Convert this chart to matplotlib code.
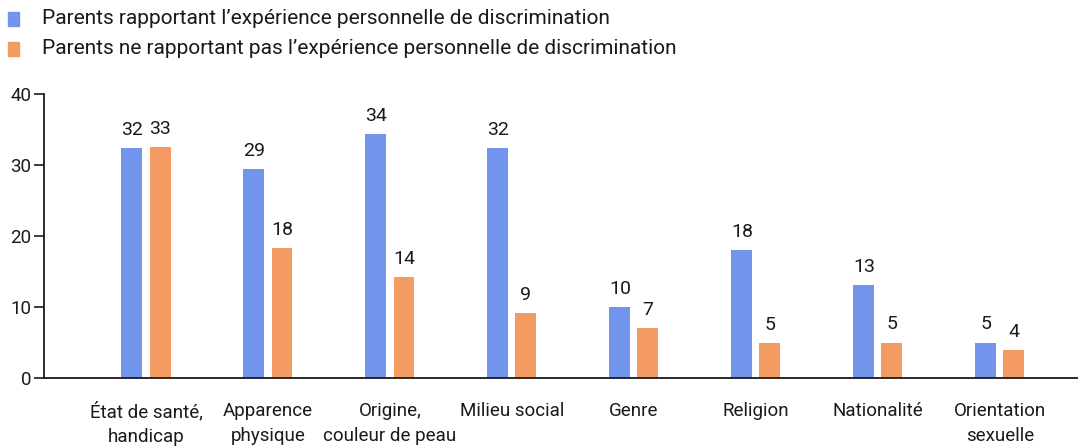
import matplotlib
matplotlib.use("Agg")
import matplotlib.pyplot as plt
from matplotlib.patches import Rectangle
import numpy as np

plt.rcParams['font.family'] = ['Roboto', 'DejaVu Sans']

categories = ["État de santé,\nhandicap", "Apparence\nphysique", "Origine,\ncouleur de peau",
              "Milieu social", "Genre", "Religion", "Nationalité", "Orientation\nsexuelle"]
series_names = ["Parents rapportant l’expérience personnelle de discrimination",
                "Parents ne rapportant pas l’expérience personnelle de discrimination"]
with_discr = [32.4, 29.4, 34.4, 32.4, 10.0, 18.0, 13.1, 5.0]
without_discr = [32.6, 18.3, 14.2, 9.1, 7.0, 4.9, 5.0, 4.0]
yticks = [0, 10, 20, 30, 40]

blue = "#7294EC"
orange = "#F39B63"
txt = "#1a1a1a"

fig = plt.figure(figsize=(10.78, 4.48), dpi=100)
ax = fig.add_axes([44/1078, 70/448, 1 - 44/1078, (378-94)/448])

x = np.arange(len(categories))
w = 0.172
off = 0.115
b1 = ax.bar(x - off, with_discr, w, color=blue)
b2 = ax.bar(x + off, without_discr, w, color=orange)

for bars, vals in ((b1, with_discr), (b2, without_discr)):
    for r, v in zip(bars, vals):
        ax.annotate(f"{round(v)}", (r.get_x() + r.get_width()/2, v), xytext=(0, 6.5),
                    textcoords="offset points", ha="center", va="bottom",
                    fontsize=14, color=txt)

ax.set_xlim(-0.836, 7.64)
ax.set_ylim(0, 40)
ax.set_yticks(yticks)
ax.tick_params(axis='y', length=7, width=1.2, labelsize=13.5, colors=txt, pad=2)
ax.set_xticks(x)
ax.set_xticklabels(categories, fontsize=13.5, color=txt, linespacing=1.5)
ax.tick_params(axis='x', length=0, pad=17)
for s in ("top", "right"):
    ax.spines[s].set_visible(False)
for s in ("left", "bottom"):
    ax.spines[s].set_linewidth(1.3)
    ax.spines[s].set_color(txt)

# legend
for i, (name, col) in enumerate(zip(series_names, [blue, orange])):
    yc = 1 - (19 + 30*i)/448
    fig.patches.append(Rectangle((8/1078, yc - 7/448), 11/1078, 14/448,
                                 transform=fig.transFigure, color=col))
    fig.text(42/1078, yc, name, fontsize=15, va="center", ha="left", color=txt)

fig.savefig("out.png", dpi=100)
